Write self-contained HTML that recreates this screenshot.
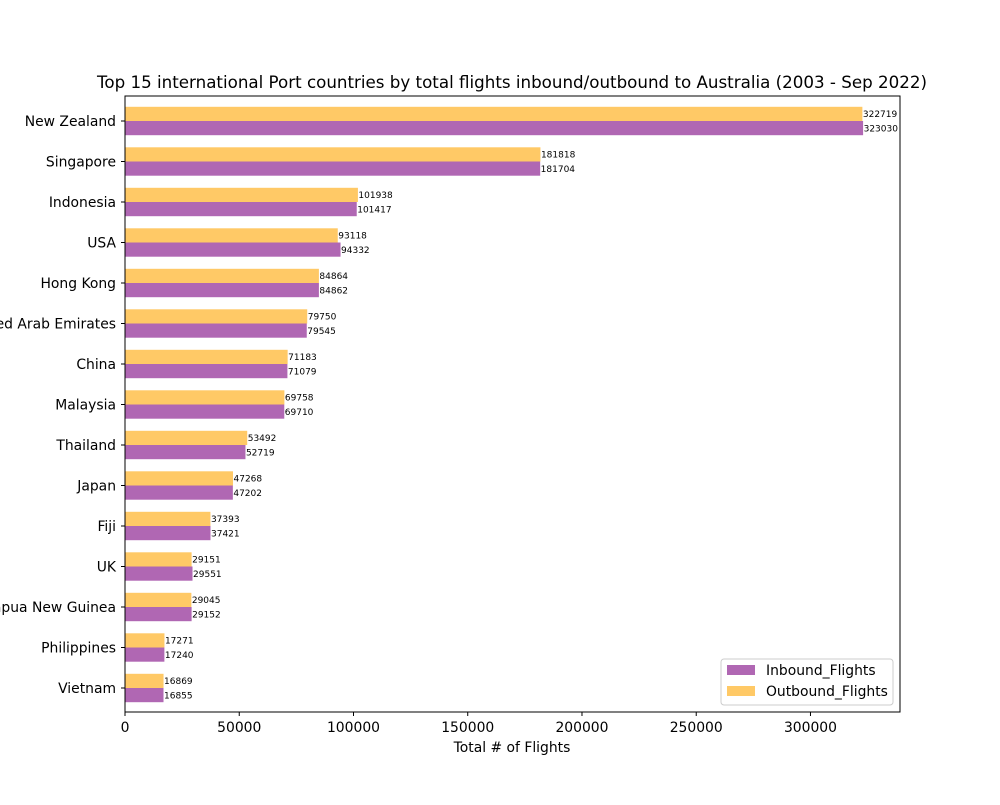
<!DOCTYPE html>
<html><head><meta charset="utf-8"><style>
body{margin:0;background:#fff;font-family:"Liberation Sans","DejaVu Sans",sans-serif;}
svg text{font-family:"DejaVu Sans","Liberation Sans",sans-serif;}
</style></head><body>
<svg id="chart" width="1000" height="800" xmlns="http://www.w3.org/2000/svg">
<rect width="1000" height="800" fill="#fff"/>
<text x="512" y="88" font-size="16.7" text-anchor="middle">Top 15 international Port countries by total flights inbound/outbound to Australia (2003 - Sep 2022)</text>
<g id="plot"></g>
<rect x="125" y="96" width="775" height="616" fill="none" stroke="#000" stroke-width="1"/>
<text x="512" y="752" font-size="13.9" text-anchor="middle">Total # of Flights</text>
<g>
<rect x="721" y="659" width="172" height="46" fill="#fff" stroke="#ccc" rx="3"/>
<rect x="727" y="665" width="28" height="10" fill="#b067b3"/>
<text x="766" y="675" font-size="13.9">Inbound_Flights</text>
<rect x="727" y="686" width="28" height="10" fill="#ffc966"/>
<text x="766" y="696" font-size="13.9">Outbound_Flights</text>
</g>
</svg>
<script>
const categories=["New Zealand","Singapore","Indonesia","USA","Hong Kong","United Arab Emirates","China","Malaysia","Thailand","Japan","Fiji","UK","Papua New Guinea","Philippines","Vietnam"];
const inbound=[323030,181704,101417,94332,84862,79545,71079,69710,52719,47202,37421,29551,29152,17240,16855];
const outbound=[322719,181818,101938,93118,84864,79750,71183,69758,53492,47268,37393,29151,29045,17271,16869];
const xTicks=[0,50000,100000,150000,200000,250000,300000];
const NS="http://www.w3.org/2000/svg";
const g=document.getElementById('plot');
const x0=125,x1=900,xmax=339181.5;
const xs=v=>x0+v/xmax*(x1-x0);
const ys=i=>121+i*40.5;
function el(t,a){const e=document.createElementNS(NS,t);for(const k in a)e.setAttribute(k,a[k]);g.appendChild(e);return e;}
categories.forEach((c,i)=>{
 const y=ys(i);
 const o=el('rect',{x:x0,y:y-14.2,width:xs(outbound[i])-x0,height:14.2,fill:'#ffc966'});
 
 
 const n=el('rect',{x:x0,y:y,width:xs(inbound[i])-x0,height:14.2,fill:'#b067b3'});
 
 
 const lo=el('text',{x:xs(outbound[i])+0.5,y:y-4,'font-size':9});lo.textContent=outbound[i];
 
 
 const li=el('text',{x:xs(inbound[i])+0.5,y:y+10.5,'font-size':9});li.textContent=inbound[i];
 
 
 el('line',{x1:x0-4,x2:x0,y1:y,y2:y,stroke:'#000'});
 const t=el('text',{x:x0-9,y:y+5,'font-size':13.9,'text-anchor':'end'});t.textContent=c;
 
 
});
xTicks.forEach(v=>{
 const x=xs(v);
 el('line',{x1:x,x2:x,y1:712,y2:716,stroke:'#000'});
 const t=el('text',{x:x,y:732,'font-size':13.9,'text-anchor':'middle'});t.textContent=v;
 
 
});
</script>
</body></html>
